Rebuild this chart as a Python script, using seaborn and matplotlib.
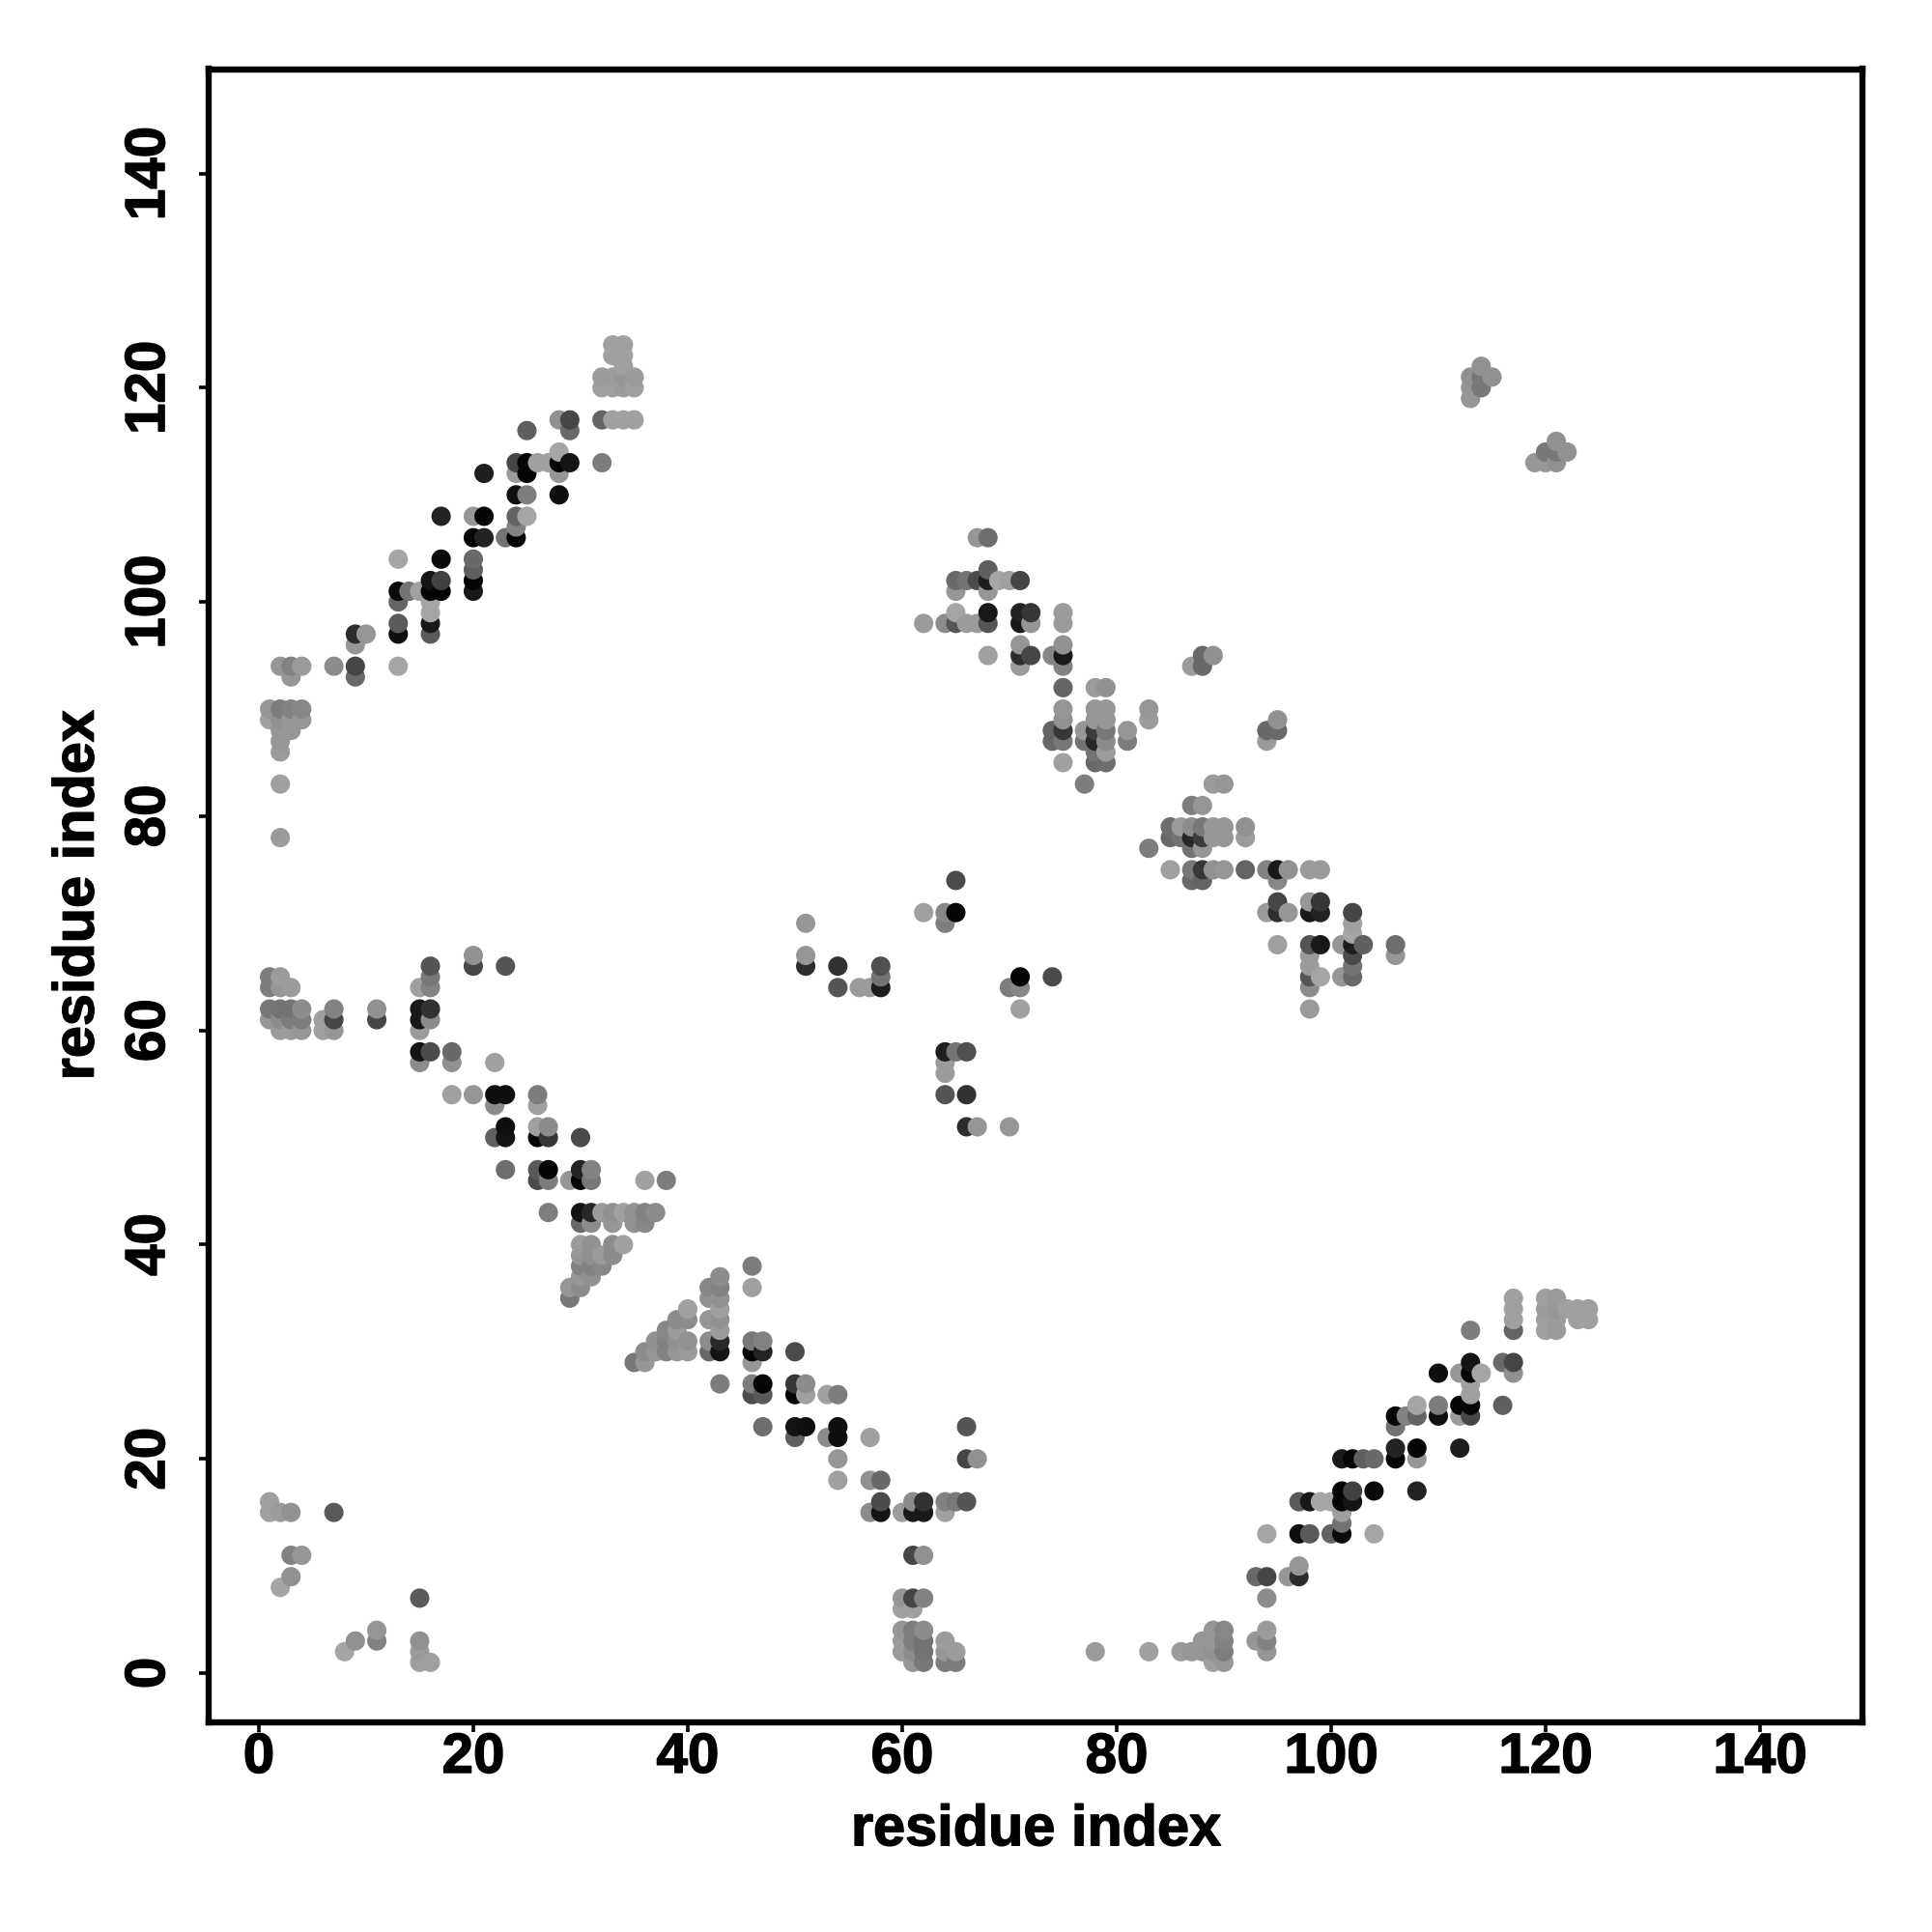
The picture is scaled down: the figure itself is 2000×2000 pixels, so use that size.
import matplotlib
matplotlib.use("Agg")
import matplotlib.pyplot as plt
import matplotlib.patheffects as pe
import pandas as pd
import seaborn as sns

# Symmetric contact map: each list holds (residue i, residue j, grey level) with i < j
helix_a = [(2,78,155),(2,83,160),(2,86,155),(2,87,150),(2,88,150),(3,88,150),(1,89,160),(2,89,145),(3,89,150),(4,89,150),
 (1,90,150),(2,90,125),(3,90,130),(4,90,135),(3,93,150),(2,94,150),(3,94,130),(4,94,155),(7,94,140),(9,93,105),(9,94,70),
 (13,94,165),(9,96,150),(9,97,45),(10,97,150),(13,97,15),(13,98,90),(16,97,90),(16,98,25),(16,99,165),(16,100,165),
 (13,100,100),(13,101,10),(14,101,115),(15,101,160),(16,101,5),(17,101,5),(16,102,20),(17,102,65),(13,104,165),(17,104,10),
 (17,108,35),(20,101,25),(20,102,5),(20,103,95),(20,104,105),(20,106,5),(21,106,35),(20,108,150),(21,108,5),(21,112,30)]
helix_b = [(23,106,115),(24,106,5),(24,107,130),(24,108,100),(25,108,165),(24,110,15),(25,110,125),(28,110,15),
 (24,112,155),(25,112,5),(24,113,70),(25,113,5),(26,113,160),(27,113,160),(28,112,150),(28,113,5),(29,113,20),(28,114,165),
 (32,113,125),(25,116,95),(28,117,145),(29,116,105),(29,117,70),(32,117,100),(33,117,160),(34,117,160),(35,117,160),
 (32,120,160),(33,120,160),(34,120,155),(35,120,160),(32,121,155),(33,121,155),(34,121,150),(35,121,155),
 (34,122,160),(33,123,160),(34,123,160),(33,124,160),(34,124,160),
 (113,119,150),(113,120,150),(113,121,145),(114,120,120),(114,121,120),(114,122,145),(115,121,145)]
block_low = [(2,8,165),(3,9,145),(3,11,130),(4,11,150),(1,15,160),(2,15,155),(3,15,145),(7,15,90),(1,16,160),
 (1,64,125),(2,64,150),(3,64,155),(1,65,125),(2,65,155),
 (1,61,150),(2,60,155),(2,61,140),(3,60,155),(3,61,125),(4,60,150),(4,61,125),(1,62,120),(2,62,115),(3,62,115),(4,62,140),
 (6,60,160),(6,61,160),(7,60,150),(7,61,70),(7,62,130),(11,61,70),(11,62,145),
 (15,60,155),(15,61,25),(15,62,25),(15,64,160),(16,61,140),(16,62,50),(16,64,130),(16,65,120),(16,66,85),
 (15,57,140),(15,58,20),(16,58,75),(18,57,145),(18,58,105),(22,57,160),(20,66,70),(20,67,145),(23,66,85)]
strand_mid = [(18,54,160),(20,54,150),(22,53,140),(22,54,15),(23,54,15),(26,53,160),(26,54,125),
 (23,51,15),(23,50,20),(22,50,95),(26,50,5),(26,51,160),(27,50,55),(27,51,140),(30,50,75),
 (23,47,110),(26,46,75),(26,47,90),(27,46,125),(27,47,5),(29,46,150),(30,46,5),(30,47,35),(31,46,120),(31,47,130),
 (36,46,160),(38,46,125),(27,43,125),(30,42,105),(30,43,20),(31,42,140),(31,43,40),(32,43,155),(33,42,150),(33,43,145),
 (34,43,160),(35,42,145),(35,43,145),(36,42,135),(36,43,130),(37,43,140),
 (30,40,155),(31,40,145),(33,40,140),(34,40,160),(30,39,150),(31,39,145),(32,39,155),(33,39,140),
 (30,38,130),(31,38,130),(32,38,135),(30,37,150),(31,37,145),(29,36,150),(30,36,140),(29,35,120)]
center = [(51,66,45),(51,67,150),(51,70,150),(54,64,85),(54,66,50),(56,64,155),(57,64,155),(58,64,30),(58,65,115),(58,66,80),
 (62,71,160),(64,70,125),(64,71,135),(65,71,5),(65,74,75)]
cluster_top = [(67,106,150),(68,106,110),(68,103,95),(65,102,105),(66,102,115),(67,102,75),(68,102,30),(69,102,165),(70,102,160),(71,102,70),
 (65,101,150),(68,101,150),(65,99,165),(68,99,25),(71,99,35),(72,99,55),(75,99,155),
 (62,98,155),(64,98,140),(65,98,85),(66,98,155),(67,98,155),(68,98,85),(71,98,25),(72,98,150),(75,98,155),
 (71,96,150),(75,96,145),(68,95,160),(71,95,45),(72,95,70),(74,95,135),(75,95,25),(71,94,155),(75,94,130)]
cluster_right = [(75,92,100),(78,92,155),(79,92,145),(75,90,150),(78,90,150),(79,90,150),(83,90,150),
 (75,89,145),(78,89,150),(79,89,150),(83,89,155),(74,88,100),(75,88,55),(77,88,150),(78,88,60),(79,88,120),(81,88,150),
 (74,87,105),(75,87,120),(77,87,115),(78,87,40),(79,87,140),(81,87,125),(78,86,115),(79,86,155),
 (75,85,160),(78,85,105),(79,85,110),(77,83,125),(87,94,155),(88,94,105),(88,95,105),(89,95,145)]

regions = [helix_a, helix_b, block_low, strand_mid, center, cluster_top, cluster_right]
rows = [c for region in regions for c in region]

upper = pd.DataFrame(rows, columns=["i", "j", "grey"])
lower = upper.rename(columns={"i": "j", "j": "i"})
contacts = pd.concat([upper, lower], ignore_index=True).sort_values(["i", "j"])

tick_values = [0, 20, 40, 60, 80, 100, 120, 140]
axis_title = "residue index"

sns.set_theme(style="white")
plt.rcParams["font.family"] = ["Liberation Sans", "DejaVu Sans"]
plt.rcParams["font.weight"] = "bold"

fig = plt.figure(figsize=(10, 10), dpi=200, facecolor="white")
ax = fig.add_axes([216 / 2000, 1 - 1783 / 2000, (1928 - 216) / 2000, (1783 - 71.5) / 2000])

sns.scatterplot(data=contacts, x="i", y="j", hue="grey", palette="gray",
                hue_norm=(0, 255), legend=False, s=52, linewidth=0, ax=ax)

ax.set_xlim(-4.68, 149.55)
ax.set_ylim(-4.6, 149.75)
ax.set_xticks(tick_values)
ax.set_yticks(tick_values)
heavy = [pe.withStroke(linewidth=0.5, foreground="black")]
ax.set_xticklabels(tick_values, fontsize=21, fontweight="bold", color="black", path_effects=heavy)
ax.set_yticklabels(tick_values, fontsize=21, fontweight="bold", color="black", rotation=90, va="center", path_effects=heavy)
ax.tick_params(axis="x", direction="out", length=3.6, width=1.3, color="black", bottom=True, pad=0)
ax.tick_params(axis="y", direction="out", length=3.6, width=1.3, color="black", left=True, pad=8.6)
for spine in ax.spines.values():
    spine.set_linewidth(2.3)
    spine.set_color("black")
ax.set_xlabel(axis_title, fontsize=21.4, fontweight="bold", labelpad=7.3, color="black", path_effects=heavy)
ax.set_ylabel(axis_title, fontsize=21.4, fontweight="bold", labelpad=7, color="black", path_effects=heavy)

fig.savefig("out.png", dpi=200, facecolor="white")
